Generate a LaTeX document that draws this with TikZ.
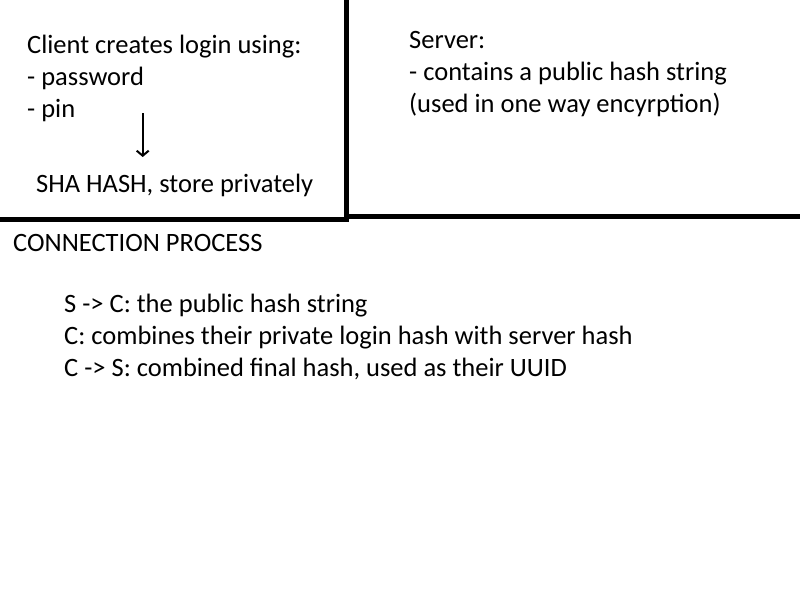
\documentclass[tikz,border=0pt]{standalone}
\usepackage{fontspec}
\setmainfont{Carlito}
\usepackage{tikz}
\usetikzlibrary{arrows.meta}

\begin{document}
\begin{tikzpicture}[x=1pt, y=-1pt,
        txt/.style={anchor=base west, inner sep=0pt, font=\fontsize{26.5}{32}\selectfont}]
        \useasboundingbox (0,0) rectangle (800,600);
        % frame lines
        \draw[line width=5pt](346.5,0) -- (346.5,222);
        \draw[line width=5pt](0,219.5) -- (349,219.5);
        \draw[line width=5pt](346,216.5) -- (800,216.5);
        % client side
        \node[txt] (client) at (27,53) {Client creates login using:};
        \node[txt] (pwd) at (27,85) {- password};
        \node[txt] (pin) at (27,117) {- pin};
        \node[txt] (sha) at (36,192) {SHA HASH, store privately};
        \coordinate (arrtop) at (142.7,113);
        \coordinate (arrbot) at (142.7,157);
        \draw[line width=2pt, -{Straight Barb[length=5pt, width=12pt]}](arrtop) -- (arrbot);
        % server side
        \node[txt] (server) at (409,48) {Server:};
        \node[txt] (pub) at (409,80) {- contains a public hash string};
        \node[txt] (oneway) at (409,112) {(used in one way encyrption)};
        % connection
        \node[txt] (conn) at (13,251) {CONNECTION PROCESS};
        \node[txt] (step1) at (64,312) {S -> C: the public hash string};
        \node[txt] (step2) at (64,344) {C: combines their private login hash with server hash};
        \node[txt] (step3) at (64,376) {C -> S: combined final hash, used as their UUID};
    \end{tikzpicture}
\end{document}
